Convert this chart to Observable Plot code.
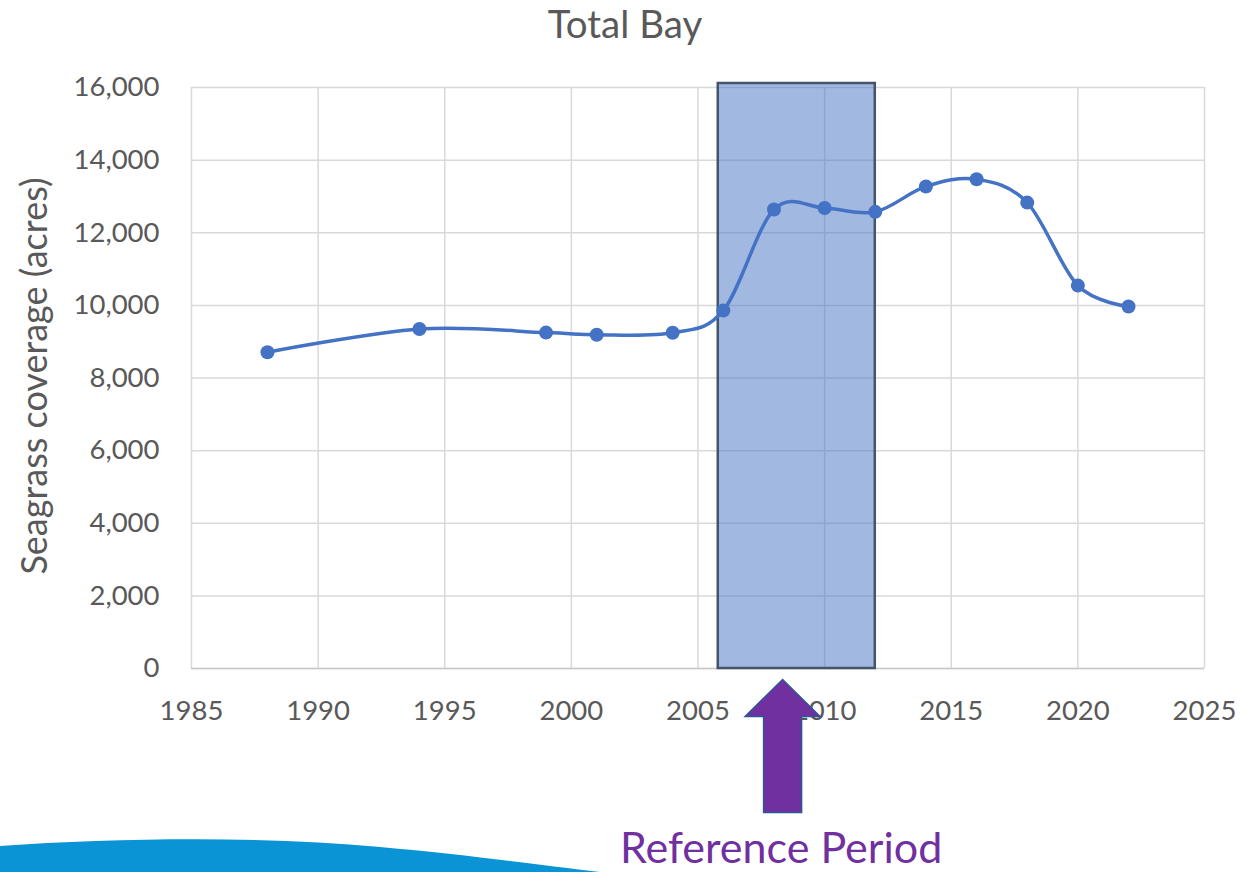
<!DOCTYPE html>
<html>
<head>
<meta charset="utf-8">
<script src="https://cdn.jsdelivr.net/npm/d3@7"></script>
<script src="https://cdn.jsdelivr.net/npm/@observablehq/plot@0.6"></script>
<style>
  html, body { margin: 0; padding: 0; background: #ffffff; }
  body { width: 1241px; height: 872px; position: relative; overflow: hidden; font-family: Lato, "Open Sans", sans-serif; }
  #title { position: relative; height: 60px; }
  #title span { position: absolute; left: 625px; top: 4px; transform: translateX(-50%); font-size: 38.5px; line-height: 38px; color: #595959; white-space: nowrap; }
  #swoosh { position: absolute; left: 0; top: 0; pointer-events: none; }
  #chart { position: relative; }
</style>
</head>
<body>
<svg id="swoosh" width="1241" height="872">
  <path d="M0,846 C120,838 260,836 380,847 C470,855 540,865 600,872 L0,872 Z" fill="#0a94d6"/>
</svg>
<div id="title"><span>Total Bay</span></div>
<div id="chart"></div>
<script>
const years = [1988, 1994, 1999, 2001, 2004, 2006, 2008, 2010, 2012, 2014, 2016, 2018, 2020, 2022];
const acres = [8710, 9350, 9250, 9190, 9245, 9860, 12640, 12680, 12575, 13275, 13475, 12830, 10545, 9970];
const xTicks = [1985, 1990, 1995, 2000, 2005, 2010, 2015, 2020, 2025];
const yTicks = [0, 2000, 4000, 6000, 8000, 10000, 12000, 14000, 16000];
const refStart = 2005.8;
const refEnd = 2012;
const refTop = 16110;
const arrowAt = 2008.36;
const refLabel = "Reference Period";
const yLabel = "Seagrass coverage (acres)";

const data = years.map((y, i) => ({year: y, acres: acres[i]}));

const arrowMark = (index, scales, values, dimensions) => {
  const cx = scales.x(arrowAt);
  const y0 = scales.y(0);
  const pts = [
    [cx, y0 + 11.5],
    [cx + 37.5, y0 + 48.5],
    [cx + 19, y0 + 48.5],
    [cx + 19, y0 + 144.5],
    [cx - 19, y0 + 144.5],
    [cx - 19, y0 + 48.5],
    [cx - 37.5, y0 + 48.5]
  ];
  return d3.create("svg:polygon")
    .attr("points", pts.map(p => p.join(",")).join(" "))
    .attr("fill", "#7030a0")
    .attr("stroke", "#2f5597")
    .attr("stroke-width", 1.5)
    .attr("stroke-linejoin", "miter")
    .node();
};

const chart = Plot.plot({
  width: 1241,
  height: 812,
  marginTop: 27,
  marginBottom: 204,
  marginLeft: 191,
  marginRight: 37,
  style: {fontFamily: "Lato, 'Open Sans', sans-serif", color: "#595959", background: "transparent", overflow: "visible"},
  x: {domain: [1985, 2025]},
  y: {domain: [0, 16000]},
  marks: [
    Plot.gridX(xTicks, {stroke: "#d9d9d9", strokeOpacity: 1, strokeWidth: 1.5}),
    Plot.gridY(yTicks, {stroke: "#d9d9d9", strokeOpacity: 1, strokeWidth: 1.5}),
    Plot.ruleY([0], {stroke: "#c9c9c9", strokeWidth: 1.5}),
    Plot.rect([{x1: refStart, x2: refEnd, y1: 0, y2: refTop}], {
      x1: "x1", x2: "x2", y1: "y1", y2: "y2",
      fill: "#4472c4", fillOpacity: 0.5, stroke: "#44546a", strokeWidth: 2.5
    }),
    Plot.line(data, {x: "year", y: "acres", curve: "cardinal", stroke: "#4472c4", strokeWidth: 3.5}),
    Plot.dot(data, {x: "year", y: "acres", r: 7, fill: "#4472c4", stroke: "none"}),
    Plot.axisX(xTicks, {tickSize: 0, tickPadding: 32, tickFormat: d => String(d), fontSize: 27.5, label: null}),
    Plot.axisY(yTicks, {tickSize: 0, tickPadding: 32, tickFormat: d3.format(","), fontSize: 27.5, label: null}),
    Plot.text([yLabel], {frameAnchor: "left", text: d => d, rotate: -90, textAnchor: "middle", lineAnchor: "bottom", dx: -145, dy: -2, fontSize: 36, fill: "#595959"}),
    arrowMark,
    Plot.text([refLabel], {x: () => arrowAt, y: () => 0, text: d => d, lineAnchor: "bottom", dx: -2, dy: 194, fontSize: 43, fill: "#7030a0"})
  ]
});
document.getElementById("chart").appendChild(chart);
</script>
</body>
</html>
